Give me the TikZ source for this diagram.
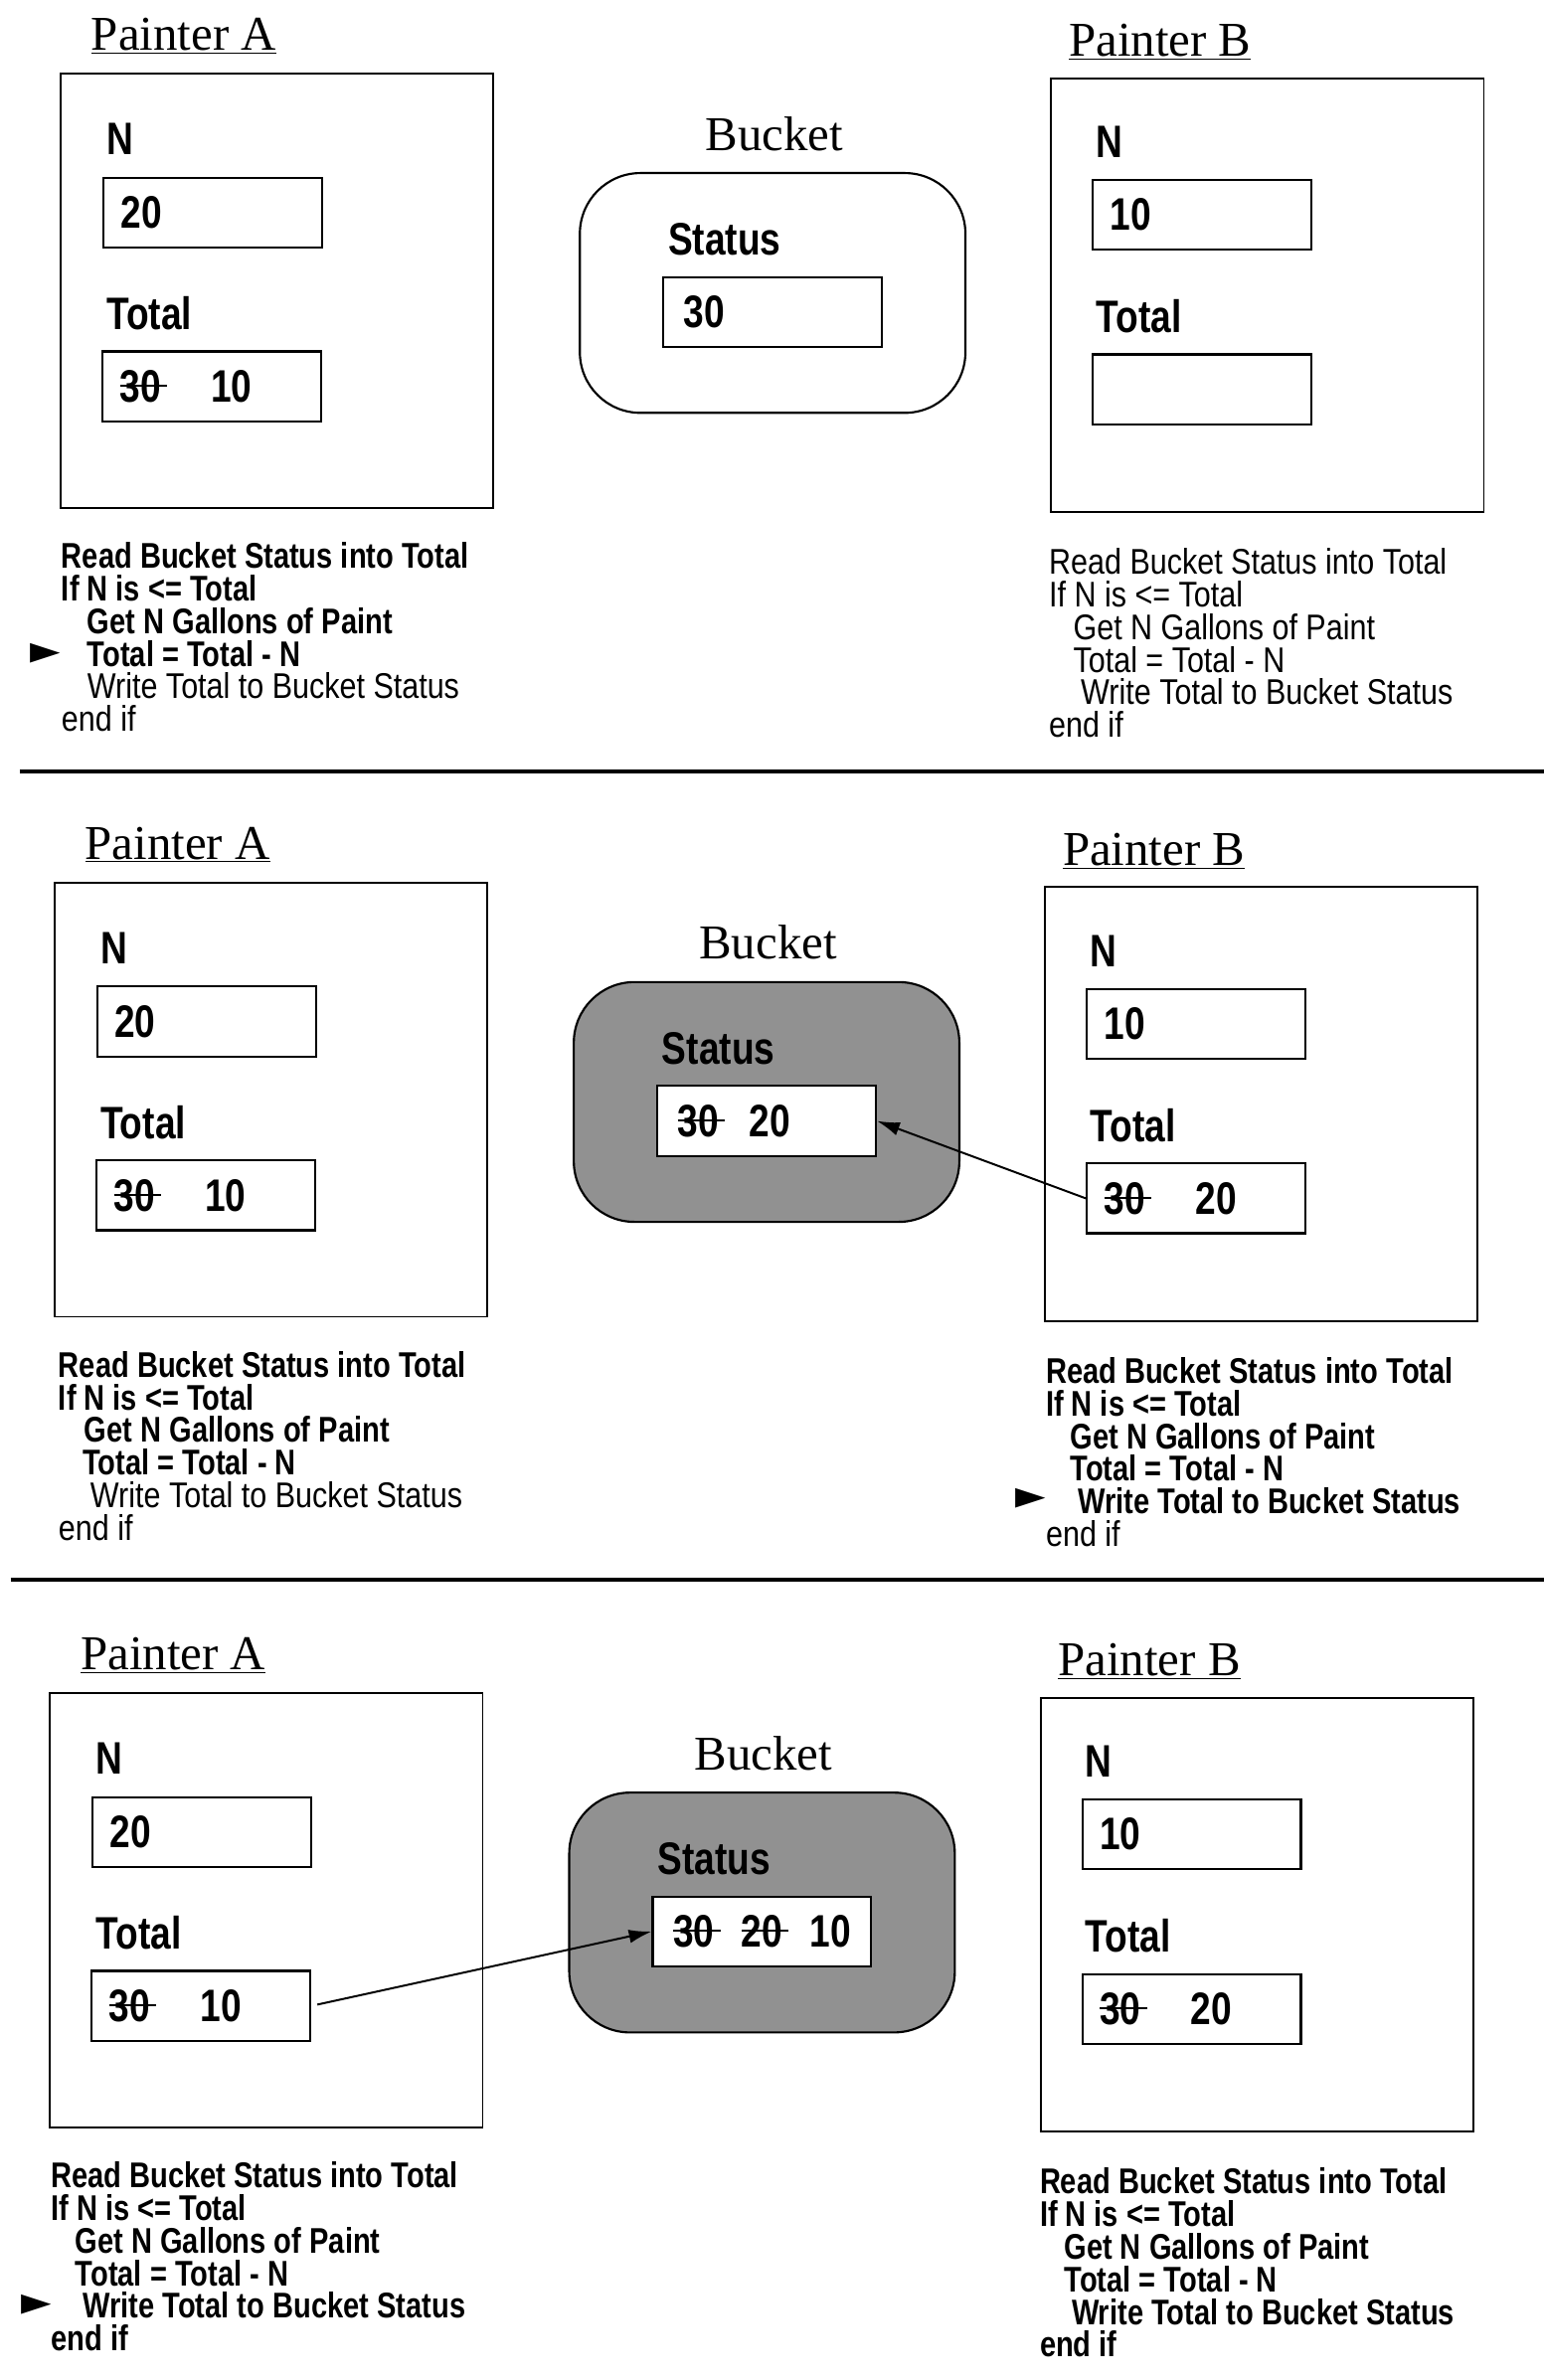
\documentclass[tikz,border=0pt]{standalone}
\usepackage{fontspec}
\setmainfont{Liberation Serif}
\newfontfamily\condfont[FakeStretch=0.85, BoldFeatures={FakeStretch=0.81}]{Liberation Sans}
\newfontfamily\markfont{DejaVu Sans}
\usetikzlibrary{arrows.meta, positioning}

\definecolor{bucketgray}{RGB}{145,145,145}
% struck-out value
\newcommand{\strk}[1]{\setbox0\hbox{#1}\rlap{\rule[0.33em]{\dimexpr\wd0+4pt\relax}{1.3pt}}\box0}

\begin{document}
\begin{tikzpicture}[x=1pt, y=-1pt,
    title/.style={anchor=base west, inner sep=0pt, font=\fontsize{32}{34}\selectfont},
    painter/.style={rectangle, draw, line width=1.2pt, minimum width=285pt, minimum height=286pt},
    field/.style={rectangle, draw, line width=1.4pt, fill=white, minimum width=144pt, minimum height=46pt, inner sep=0pt},
    lbl/.style={anchor=base west, inner sep=0pt, font=\condfont\bfseries\fontsize{30}{32}\selectfont},
    val/.style={inner sep=0pt, font=\condfont\bfseries\fontsize{30}{32}\selectfont},
    bucket/.style={rectangle, draw, line width=1.4pt, rounded corners=40pt, minimum width=254pt, minimum height=158pt},
    code/.style={inner sep=0pt, align=left, font=\condfont\fontsize{23.5}{21.5}\selectfont},
    marker/.style={anchor=base west, inner sep=0pt, font=\markfont\fontsize{26}{26}\selectfont},
    arrow/.style={-{Latex[length=15pt, width=9pt]}, line width=1.3pt},
    rulebar/.style={line width=2.5pt},
]
\useasboundingbox (0,0) rectangle (1017,1568);

% Common parts of the three snapshots
\foreach \p/\dx/\dy/\bfill in {1/0/0/white, 2/-4/533/bucketgray, 3/-7/1067/bucketgray} {
  \begin{scope}[shift={(\dx,\dy)}]
    % Painter A
    \node[title] (titleA\p) at (60,33) {\underline{Painter A}};
    \node[painter] (boxA\p) at (182.5,191.5) {};
    \node[lbl] (labNA\p) at (70,102) {N};
    \node[field] (nA\p) at (140,140) {};
    \node[val, right=12pt of nA\p.west] (vnA\p) {20};
    \node[lbl] (labTA\p) at (70,217) {Total};
    \node[field] (totA\p) at (139.5,254.5) {};
    % Bucket
    \node[title, anchor=base] (titleK\p) at (510,99) {Bucket};
    \node[bucket, fill=\bfill] (bucket\p) at (509,193) {};
    \node[lbl] (labS\p) at (440,168) {Status};
    \node[field] (stat\p) at (509,205.5) {};
    % Painter B
    \node[title] (titleB\p) at (704,37) {\underline{Painter B}};
    \node[painter] (boxB\p) at (835,194.5) {};
    \node[lbl] (labNB\p) at (722,104) {N};
    \node[field] (nB\p) at (792,141.5) {};
    \node[val, right=12pt of nB\p.west] (vnB\p) {10};
    \node[lbl] (labTB\p) at (722,219) {Total};
    \node[field] (totB\p) at (792,256.5) {};
  \end{scope}
}

% Separators
\draw[rulebar] (13,508) -- (1017,508);
\draw[rulebar] (7,1041) -- (1017,1041);

% Snapshot 1
\node[val, right=12pt of totA1.west] (vtotA1) {\strk{30}\hspace{33pt}10};
\node[val, right=14pt of stat1.west] (vstat1) {30};
\node[code, below right=22pt and 1pt of boxA1.south west] (codeA1) {%
  \textbf{Read Bucket Status into Total}\\
  \textbf{If N is <= Total}\\
  \hspace*{17pt}\textbf{Get N Gallons of Paint}\\
  \hspace*{17pt}\textbf{Total = Total - N}\\
  \hspace*{17pt}Write Total to Bucket Status\\
  end if};
\node[marker] (markA1) at (20,437) {►};
\node[code, below right=23pt and -1pt of boxB1.south west] (codeB1) {%
  Read Bucket Status into Total\\
  If N is <= Total\\
  \hspace*{16pt}Get N Gallons of Paint\\
  \hspace*{16pt}Total = Total - N\\
  \hspace*{21pt}Write Total to Bucket Status\\
  end if};

% Snapshot 2
\node[val, right=12pt of totA2.west] (vtotA2) {\strk{30}\hspace{33pt}10};
\node[val, right=14pt of stat2.west] (vstat2) {\strk{30}\hspace{20pt}20};
\node[val, right=12pt of totB2.west] (vtotB2) {\strk{30}\hspace{33pt}20};
\draw[arrow] (totB2.west) -- (stat2.east);
\node[code, below right=22pt and 3pt of boxA2.south west] (codeA2) {%
  \textbf{Read Bucket Status into Total}\\
  \textbf{If N is <= Total}\\
  \hspace*{17pt}\textbf{Get N Gallons of Paint}\\
  \hspace*{16pt}\textbf{Total = Total - N}\\
  \hspace*{21pt}Write Total to Bucket Status\\
  end if};
\node[code, below right=23pt and 1pt of boxB2.south west] (codeB2) {%
  \textbf{Read Bucket Status into Total}\\
  \textbf{If N is <= Total}\\
  \hspace*{16pt}\textbf{Get N Gallons of Paint}\\
  \hspace*{16pt}\textbf{Total = Total - N}\\
  \hspace*{21pt}\textbf{Write Total to Bucket Status}\\
  end if};
\node[marker] (markB2) at (669,994) {►};

% Snapshot 3
\node[val, right=12pt of totA3.west] (vtotA3) {\strk{30}\hspace{33pt}10};
\node[val, right=14pt of stat3.west] (vstat3) {\strk{30}\hspace{18pt}\strk{20}\hspace{18pt}10};
\node[val, right=12pt of totB3.west] (vtotB3) {\strk{30}\hspace{33pt}20};
\draw[arrow, shorten <=4pt] (totA3.east) -- (stat3.west);
\node[code, below right=22pt and 1pt of boxA3.south west] (codeA3) {%
  \textbf{Read Bucket Status into Total}\\
  \textbf{If N is <= Total}\\
  \hspace*{16pt}\textbf{Get N Gallons of Paint}\\
  \hspace*{16pt}\textbf{Total = Total - N}\\
  \hspace*{21pt}\textbf{Write Total to Bucket Status}\\
  \textbf{end if}};
\node[marker] (markA3) at (14,1525) {►};
\node[code, below right=23pt and 0pt of boxB3.south west] (codeB3) {%
  \textbf{Read Bucket Status into Total}\\
  \textbf{If N is <= Total}\\
  \hspace*{16pt}\textbf{Get N Gallons of Paint}\\
  \hspace*{16pt}\textbf{Total = Total - N}\\
  \hspace*{21pt}\textbf{Write Total to Bucket Status}\\
  \textbf{end if}};
\end{tikzpicture}
\end{document}
